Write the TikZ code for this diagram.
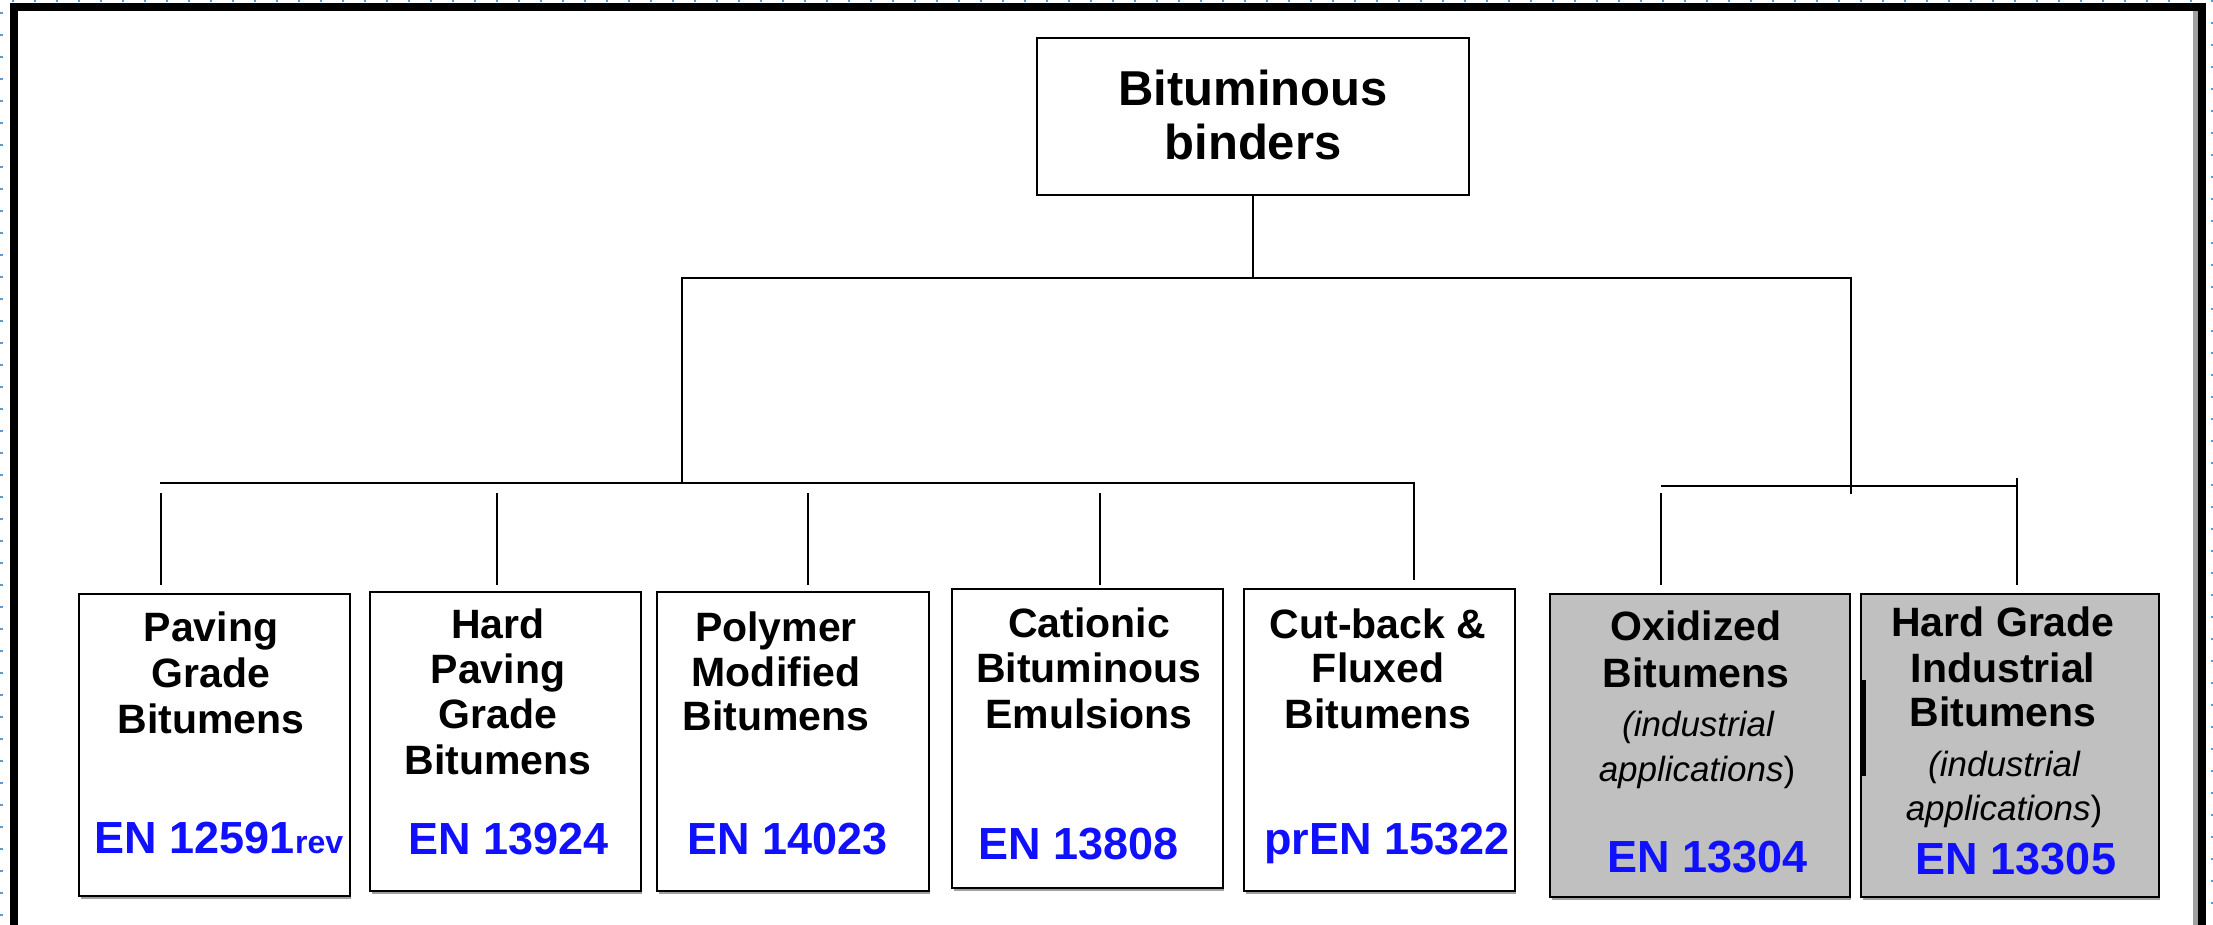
\documentclass[tikz,border=0pt]{standalone}
\usepackage{fontspec}
\setmainfont{Liberation Sans}
\definecolor{dotblue}{RGB}{91,155,213}
\definecolor{boxgray}{RGB}{192,192,192}
\definecolor{enblue}{RGB}{16,16,255}
\definecolor{shadowgray}{RGB}{160,160,160}
\begin{document}
\begin{tikzpicture}[x=1pt,y=-1pt,
  box/.style={draw=black, line width=2.6pt, anchor=north west, inner sep=0pt, outer sep=0pt},
  gbox/.style={box, fill=boxgray},
  conn/.style={line width=2.8pt, black},
  tt/.style={font=\bfseries\fontsize{41}{47}\selectfont, anchor=base, inner sep=0pt},
  rt/.style={font=\bfseries\fontsize{49}{55}\selectfont, anchor=base, inner sep=0pt},
  it/.style={font=\itshape\fontsize{35}{40}\selectfont, anchor=base, inner sep=0pt},
  en/.style={font=\bfseries\fontsize{45}{50}\selectfont, text=enblue, anchor=base, inner sep=0pt},
  shadowline/.style={line width=2pt, shadowgray}
]
\useasboundingbox (0,0) rectangle (2213,925);
\fill[white] (0,0) rectangle (2213,925);

% page marks
\foreach \i in {0,...,99} \fill[dotblue] ({12.3+22*\i},0) rectangle +(2,2.4);
\foreach \i in {0,...,41} \fill[dotblue] (0.4,{11.7+22*\i}) rectangle +(2.4,2);
\foreach \i in {0,...,41} \fill[dotblue] (2210.6,{0.3+22*\i}) rectangle +(2.4,2);

% frame
\fill[black] (10,3.3) rectangle (2206,11);
\fill[black] (10,3.3) rectangle (18,925);
\fill[black] (2198.3,3.3) rectangle (2206,925);
\fill[shadowgray] (2193.3,11) rectangle (2198.3,925);

% boxes
\node[box, minimum width=432pt, minimum height=157pt] (root) at (1037,38) {};
\node[box, minimum width=271pt, minimum height=302pt] (b1) at (79,594) {};
\node[box, minimum width=271pt, minimum height=299pt] (b2) at (370,592) {};
\node[box, minimum width=272pt, minimum height=299pt] (b3) at (657,592) {};
\node[box, minimum width=271pt, minimum height=299pt] (b4) at (952,589) {};
\node[box, minimum width=271pt, minimum height=302pt] (b5) at (1244,589) {};
\node[gbox, minimum width=300pt, minimum height=303pt] (b6) at (1550,594) {};
\node[gbox, minimum width=298pt, minimum height=303pt] (b7) at (1861,594) {};
\foreach \b in {b1,b2,b3,b4,b5,b6,b7}
  \draw[shadowline] ([xshift=2pt,yshift=-2.4pt]\b.south west) -- ([xshift=1pt,yshift=-2.4pt]\b.south east);
\draw[line width=4pt] (1864,680) -- (1864,776);

% connector coordinates
\coordinate (tl) at (682,278);
\coordinate (tr) at (1851,278);
\coordinate (tlb) at (682,483);
\coordinate (trb) at (1851,494);
\coordinate (lbL) at (160,483);
\coordinate (lbR) at (1414,483);
\coordinate (d5) at (1414,580);
\coordinate (u1) at (161,493) ; \coordinate (e1) at (161,585);
\coordinate (u2) at (497,493) ; \coordinate (e2) at (497,585);
\coordinate (u3) at (808,493) ; \coordinate (e3) at (808,585);
\coordinate (u4) at (1100,493); \coordinate (e4) at (1100,585);
\coordinate (rbL) at (1661,486);
\coordinate (rbR) at (2017,486);
\coordinate (u6) at (1661,493); \coordinate (e6) at (1661,585);
\coordinate (u7) at (2017,478); \coordinate (e7) at (2017,585);

\draw[conn] (root.south) -- (root.south |- tl);
\draw[conn] (tlb) -- (tl) -- (tr) -- (trb);
\draw[conn] (lbL) -- (lbR) -- (d5);
\draw[conn] (u1) -- (e1);
\draw[conn] (u2) -- (e2);
\draw[conn] (u3) -- (e3);
\draw[conn] (u4) -- (e4);
\draw[conn] (rbL) -- (rbR);
\draw[conn] (u6) -- (e6);
\draw[conn] (u7) -- (e7);

% texts
\node[rt] (r1) at (1253,106) {Bituminous};
\node[rt] (r2) at (1253,160) {binders};

\node[tt] (t1a) at (211,641) {Paving};
\node[tt] (t1b) at (211,687) {Grade};
\node[tt] (t1c) at (211,733) {Bitumens};
\node[en] (n1) at (219,853) {EN 12591{\fontsize{32}{36}\selectfont rev}};

\node[tt] (t2a) at (498,638) {Hard};
\node[tt] (t2b) at (498,683) {Paving};
\node[tt] (t2c) at (498,728) {Grade};
\node[tt] (t2d) at (498,774) {Bitumens};
\node[en] (n2) at (509,854) {EN 13924};

\node[tt] (t3a) at (776,641) {Polymer};
\node[tt] (t3b) at (776,686) {Modified};
\node[tt] (t3c) at (776,730) {Bitumens};
\node[en] (n3) at (788,854) {EN 14023};

\node[tt] (t4a) at (1089,637) {Cationic};
\node[tt] (t4b) at (1089,682) {Bituminous};
\node[tt] (t4c) at (1089,728) {Emulsions};
\node[en] (n4) at (1079,859) {EN 13808};

\node[tt] (t5a) at (1378,638) {Cut-back \&};
\node[tt] (t5b) at (1378,682) {Fluxed};
\node[tt] (t5c) at (1378,728) {Bitumens};
\node[en] (n5) at (1387,854) {prEN 15322};

\node[tt] (t6a) at (1696,640) {Oxidized};
\node[tt] (t6b) at (1696,687) {Bitumens};
\node[it] (t6c) at (1698,736) {(industrial};
\node[it] (t6d) at (1697,781) {applications\upshape)};
\node[en] (n6) at (1708,872) {EN 13304};

\node[tt] (t7a) at (2003,636) {Hard Grade};
\node[tt] (t7b) at (2003,682) {Industrial};
\node[tt] (t7c) at (2003,726) {Bitumens};
\node[it] (t7d) at (2004,776) {(industrial};
\node[it] (t7e) at (2004,820) {applications\upshape)};
\node[en] (n7) at (2016,874) {EN 13305};
\end{tikzpicture}
\end{document}
